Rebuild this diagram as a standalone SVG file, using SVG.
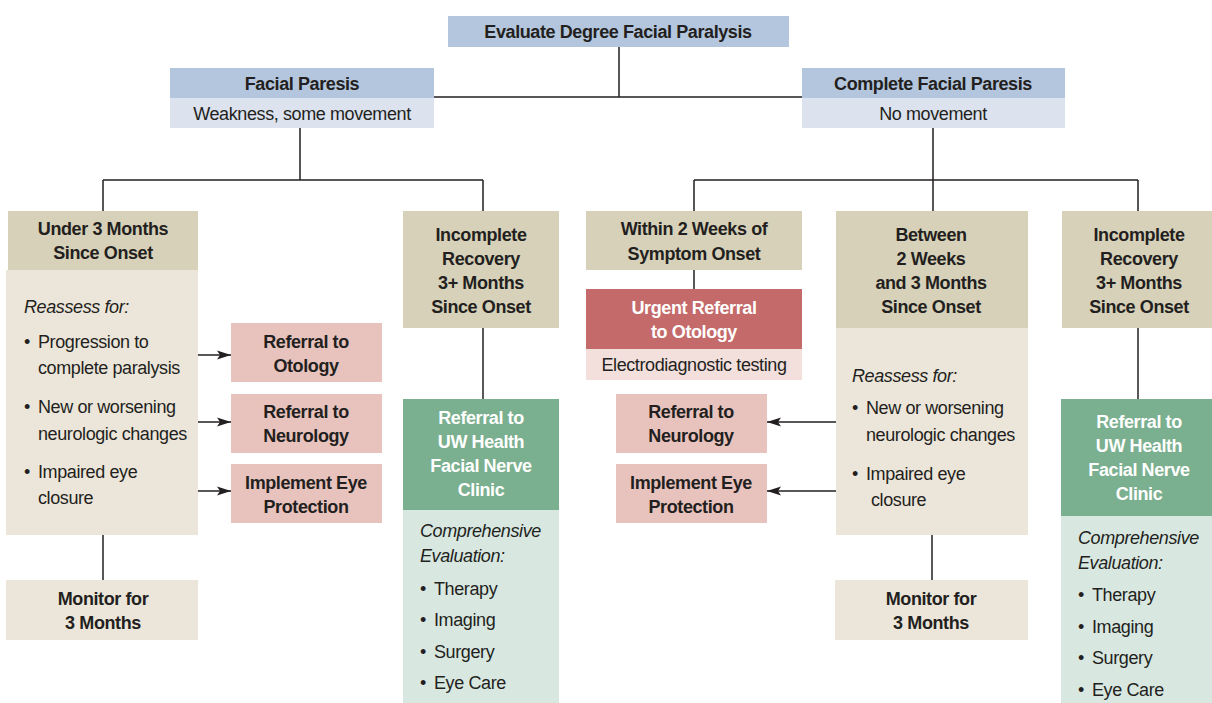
<svg xmlns="http://www.w3.org/2000/svg" width="1212" height="703" viewBox="0 0 1212 703">
<defs>
<style>
text{font-family:"Liberation Sans Narrow","Liberation Sans",Arial,sans-serif;font-size:18px;fill:#231f20;letter-spacing:-0.4px}
.b{font-weight:bold}
.c{text-anchor:middle}
.i{font-style:italic}
.w{fill:#ffffff}
.blue{fill:#b4c6dd}.lblue{fill:#dce3ee}
.tan{fill:#d7d1b9}.ltan{fill:#ece6da}
.pink{fill:#e8c3bd}
.red{fill:#c46a6a}.lred{fill:#f3e0dd}
.green{fill:#7aaf8f}.lgreen{fill:#d8e8e0}
.ln{stroke:#231f20;stroke-width:1.5;fill:none}
</style>
<marker id="ah" viewBox="0 0 14 10" refX="14" refY="5" markerWidth="14" markerHeight="10" markerUnits="userSpaceOnUse" orient="auto">
<path d="M0,0.5 L14,5 L0,9.5 L3,5 Z" fill="#231f20"/>
</marker>
</defs>

<g id="connectors">
<path class="ln" d="M619,47 V97 M434,97 H802"/>
<path class="ln" d="M300,128 V180 M103,180 H483 M103,180 V211 M483,180 V211"/>
<path class="ln" d="M933,128 V180 M694,180 H1138 M694,180 V211 M933,180 V211 M1138,180 V211"/>
<path class="ln" d="M103,535 V580"/>
<path class="ln" d="M483,328 V399"/>
<path class="ln" d="M694,270 V289"/>
<path class="ln" d="M932,535 V580"/>
<path class="ln" d="M1138,328 V399"/>
<path class="ln" d="M198,355 H231" marker-end="url(#ah)"/>
<path class="ln" d="M198,422 H231" marker-end="url(#ah)"/>
<path class="ln" d="M198,491 H231" marker-end="url(#ah)"/>
<path class="ln" d="M836,422 H767" marker-end="url(#ah)"/>
<path class="ln" d="M836,491 H767" marker-end="url(#ah)"/>
</g>

<g id="n-evaluate">
<rect class="blue" x="448" y="16" width="341" height="31"/>
<text class="b c" x="618" y="38">Evaluate Degree Facial Paralysis</text>
</g>

<g id="n-facial-paresis">
<rect class="blue" x="170" y="68" width="264" height="30"/>
<rect class="lblue" x="170" y="98" width="264" height="30"/>
<text class="b c" x="302" y="90">Facial Paresis</text>
<text class="c" x="302" y="120">Weakness, some movement</text>
</g>

<g id="n-complete-paresis">
<rect class="blue" x="802" y="68" width="263" height="30"/>
<rect class="lblue" x="802" y="98" width="263" height="30"/>
<text class="b c" x="933" y="90">Complete Facial Paresis</text>
<text class="c" x="933" y="120">No movement</text>
</g>

<g id="n-under3">
<rect class="tan" x="8" y="211" width="190" height="59"/>
<rect class="ltan" x="6" y="270" width="192" height="265"/>
<text class="b c" x="103" y="235">Under 3 Months</text>
<text class="b c" x="103" y="259">Since Onset</text>
<text class="i" x="24" y="313">Reassess for:</text>
<text x="24" y="348">•<tspan x="38">Progression to</tspan></text>
<text x="38" y="374">complete paralysis</text>
<text x="24" y="413">•<tspan x="38">New or worsening</tspan></text>
<text x="38" y="440">neurologic changes</text>
<text x="24" y="478">•<tspan x="38">Impaired eye</tspan></text>
<text x="38" y="504">closure</text>
</g>

<g id="n-monitor-left">
<rect class="ltan" x="6" y="580" width="192" height="60"/>
<text class="b c" x="103" y="605">Monitor for</text>
<text class="b c" x="103" y="629">3 Months</text>
</g>

<g id="n-ref-otology">
<rect class="pink" x="231" y="323" width="151" height="59"/>
<text class="b c" x="306" y="348">Referral to</text>
<text class="b c" x="306" y="372">Otology</text>
</g>

<g id="n-ref-neuro-left">
<rect class="pink" x="231" y="394" width="151" height="59"/>
<text class="b c" x="306" y="418">Referral to</text>
<text class="b c" x="306" y="442">Neurology</text>
</g>

<g id="n-eye-left">
<rect class="pink" x="231" y="464" width="151" height="59"/>
<text class="b c" x="306" y="489">Implement Eye</text>
<text class="b c" x="306" y="513">Protection</text>
</g>

<g id="n-incomplete-left">
<rect class="tan" x="403" y="211" width="156" height="117"/>
<text class="b c" x="481" y="241">Incomplete</text>
<text class="b c" x="481" y="265">Recovery</text>
<text class="b c" x="481" y="289">3+ Months</text>
<text class="b c" x="481" y="313">Since Onset</text>
</g>

<g id="n-clinic-left">
<rect class="green" x="403" y="399" width="156" height="111"/>
<rect class="lgreen" x="403" y="510" width="156" height="193"/>
<text class="b c w" x="481" y="424">Referral to</text>
<text class="b c w" x="481" y="448">UW Health</text>
<text class="b c w" x="481" y="472">Facial Nerve</text>
<text class="b c w" x="481" y="496">Clinic</text>
<text class="i" x="420" y="537">Comprehensive</text>
<text class="i" x="420" y="562">Evaluation:</text>
<text x="420" y="595">•<tspan x="434">Therapy</tspan></text>
<text x="420" y="626">•<tspan x="434">Imaging</tspan></text>
<text x="420" y="658">•<tspan x="434">Surgery</tspan></text>
<text x="420" y="689">•<tspan x="434">Eye Care</tspan></text>
</g>

<g id="n-within2">
<rect class="tan" x="586" y="211" width="216" height="59"/>
<text class="b c" x="694" y="235">Within 2 Weeks of</text>
<text class="b c" x="694" y="260">Symptom Onset</text>
</g>

<g id="n-urgent">
<rect class="red" x="586" y="289" width="216" height="60"/>
<rect class="lred" x="586" y="349" width="216" height="31"/>
<text class="b c w" x="694" y="314">Urgent Referral</text>
<text class="b c w" x="694" y="338">to Otology</text>
<text class="c" x="694" y="371">Electrodiagnostic testing</text>
</g>

<g id="n-ref-neuro-right">
<rect class="pink" x="616" y="394" width="151" height="59"/>
<text class="b c" x="691" y="418">Referral to</text>
<text class="b c" x="691" y="442">Neurology</text>
</g>

<g id="n-eye-right">
<rect class="pink" x="616" y="464" width="151" height="59"/>
<text class="b c" x="691" y="489">Implement Eye</text>
<text class="b c" x="691" y="513">Protection</text>
</g>

<g id="n-between">
<rect class="tan" x="836" y="211" width="192" height="117"/>
<rect class="ltan" x="836" y="328" width="192" height="207"/>
<text class="b c" x="931" y="241">Between</text>
<text class="b c" x="931" y="265">2 Weeks</text>
<text class="b c" x="931" y="289">and 3 Months</text>
<text class="b c" x="931" y="313">Since Onset</text>
<text class="i" x="852" y="382">Reassess for:</text>
<text x="852" y="414">•<tspan x="866">New or worsening</tspan></text>
<text x="866" y="441">neurologic changes</text>
<text x="852" y="480">•<tspan x="866">Impaired eye</tspan></text>
<text x="871" y="506">closure</text>
</g>

<g id="n-monitor-right">
<rect class="ltan" x="835" y="580" width="193" height="60"/>
<text class="b c" x="931" y="605">Monitor for</text>
<text class="b c" x="931" y="629">3 Months</text>
</g>

<g id="n-incomplete-right">
<rect class="tan" x="1062" y="211" width="150" height="117"/>
<text class="b c" x="1139" y="241">Incomplete</text>
<text class="b c" x="1139" y="265">Recovery</text>
<text class="b c" x="1139" y="289">3+ Months</text>
<text class="b c" x="1139" y="313">Since Onset</text>
</g>

<g id="n-clinic-right">
<rect class="green" x="1061" y="399" width="151" height="117"/>
<rect class="lgreen" x="1061" y="516" width="151" height="187"/>
<text class="b c w" x="1139" y="428">Referral to</text>
<text class="b c w" x="1139" y="452">UW Health</text>
<text class="b c w" x="1139" y="476">Facial Nerve</text>
<text class="b c w" x="1139" y="500">Clinic</text>
<text class="i" x="1078" y="544">Comprehensive</text>
<text class="i" x="1078" y="569">Evaluation:</text>
<text x="1078" y="601">•<tspan x="1092">Therapy</tspan></text>
<text x="1078" y="633">•<tspan x="1092">Imaging</tspan></text>
<text x="1078" y="664">•<tspan x="1092">Surgery</tspan></text>
<text x="1078" y="696">•<tspan x="1092">Eye Care</tspan></text>
</g>
</svg>
